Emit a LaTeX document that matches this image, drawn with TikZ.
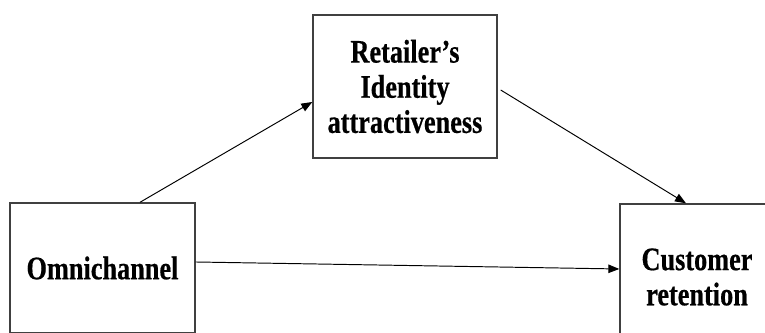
\documentclass[tikz,border=0pt]{standalone}
\usepackage{fontspec}
\setmainfont{Liberation Serif}
\newfontfamily\boxfont{Liberation Serif}[FakeStretch=0.8, BoldFeatures={FakeStretch=0.8,FakeBold=0.5}]
\usepackage{tikz}
\usetikzlibrary{arrows.meta}

\begin{document}
\begin{tikzpicture}[x=0.02cm, y=0.02cm,
  box/.style={draw=black!75, line width=0.8pt, align=center, inner sep=0pt,
    font=\boxfont\fontsize{18.7}{20}\selectfont\bfseries},
  link/.style={line width=0.55pt, -{Triangle[length=2.2mm,width=1.7mm]}}]
  \useasboundingbox (0,0) rectangle (765,333);
  \clip (0,0) rectangle (765,333);
  \node[box, minimum width=3.7cm, minimum height=2.6cm] (omni) at (102.5,65) {Omnichannel};
  \node[box, minimum width=3.68cm, minimum height=2.86cm] (retail) at (405,246.5)
    {Retailer’s\\Identity\\attractiveness};
  \node[box, minimum width=3.08cm, minimum height=2.92cm] (retain) at (697,56)
    {Customer\\retention};
  \draw[link] ([xshift=0.75cm]omni.north) -- ([yshift=-0.31cm]retail.west);
  \draw[link] ([xshift=0.06cm,yshift=-0.07cm]retail.east) -- ([xshift=-0.22cm]retain.north);
  \draw[link] ([yshift=0.12cm]omni.east) -- ([yshift=0.16cm]retain.west);
\end{tikzpicture}
\end{document}
